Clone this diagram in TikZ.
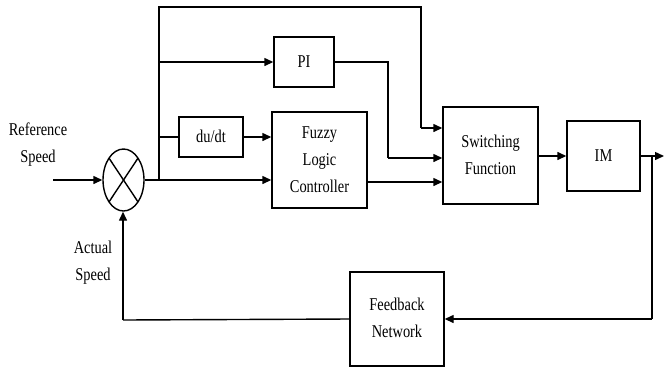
\documentclass[tikz,border=0pt]{standalone}
\usepackage{fontspec}
\setmainfont{Liberation Serif}
\usetikzlibrary{arrows.meta,shapes.geometric,calc}

% narrow, multi-line label text
\newcommand{\lbl}[1]{\scalebox{0.8}[1]{\begin{tabular}{@{}c@{}}#1\end{tabular}}}

\begin{document}
\begin{tikzpicture}[x=1bp,y=-1bp,
  font=\fontsize{18bp}{27bp}\selectfont,
  wire/.style={line width=1.4bp},
  sig/.style={wire,-{Triangle[length=9bp,width=8bp]}},
  blk/.style={draw,line width=1.4bp,inner sep=0pt,align=center},
  txt/.style={inner sep=0pt}]

\useasboundingbox (0,0) rectangle (664,367);

% blocks
\node[blk,ellipse,minimum width=41bp,minimum height=62bp] (sum) at (123.5,180) {};
\node[blk,minimum width=60bp,minimum height=50bp] (pi) at (304,62) {\lbl{PI}};
\node[blk,minimum width=64bp,minimum height=40bp] (ddt) at (211,137) {\lbl{du/dt}};
\node[blk,minimum width=95bp,minimum height=96bp] (flc) at (319.5,160) {\lbl{Fuzzy\\Logic\\Controller}};
\node[blk,minimum width=95bp,minimum height=97bp] (sw) at (490.5,155.5) {\lbl{Switching\\Function}};
\node[blk,minimum width=73bp,minimum height=70bp] (im) at (603.5,156) {\lbl{IM}};
\node[blk,minimum width=94bp,minimum height=94bp] (fb) at (397,319) {\lbl{Feedback\\Network}};

% cross inside the summing junction
\draw[wire] ($(sum.center)+(-14.5,-21.9)$) -- ($(sum.center)+(14.5,21.9)$);
\draw[wire] ($(sum.center)+(14.5,-21.9)$) -- ($(sum.center)+(-14.5,21.9)$);

% labels
\node[txt] (reflbl) at (38,144) {\lbl{Reference\\Speed}};
\node[txt] (actlbl) at (93,262) {\lbl{Actual\\Speed}};

% helper points
\coordinate (in) at (53,180);
\coordinate (br) at (159,180);
\coordinate (top) at (159,7);
\coordinate (topr) at (421,7);
\coordinate (pibend) at (388,62);
\coordinate (out) at (664,156);
\coordinate (tap) at (652,156);
\coordinate (fbl) at (123,320);

% forward path
\draw[sig] (in) -- (sum.west);
\draw[sig] (sum.east) -- (flc.west |- sum.east);
\draw[wire] (br) -- (top) -- (topr) -- ($(topr)+(0,121)$);
\draw[sig] ($(topr)+(0,121)$) -- (sw.west |- {$(topr)+(0,121)$});
\draw[sig] (br |- pi.west) -- (pi.west);
\draw[wire] (br |- ddt.west) -- (ddt.west);
\draw[sig] (ddt.east) -- (flc.west |- ddt.east);
\draw[wire] (pi.east) -- (pibend) -- ($(pibend)+(0,96)$);
\draw[sig] ($(pibend)+(0,96)$) -- (sw.west |- {$(pibend)+(0,96)$});
\draw[sig] ($(flc.east)+(0,22)$) -- (sw.west |- {$(flc.east)+(0,22)$});
\draw[sig] (sw.east |- im.west) -- (im.west);
\draw[sig] (im.east) -- (out);

% feedback path
\draw[wire] (tap) -- (tap |- fb.east);
\draw[sig] (tap |- fb.east) -- (fb.east);
\draw[wire] (fb.west) -- (fbl);
\draw[sig] (fbl) -- (fbl |- sum.south);
\end{tikzpicture}
\end{document}
